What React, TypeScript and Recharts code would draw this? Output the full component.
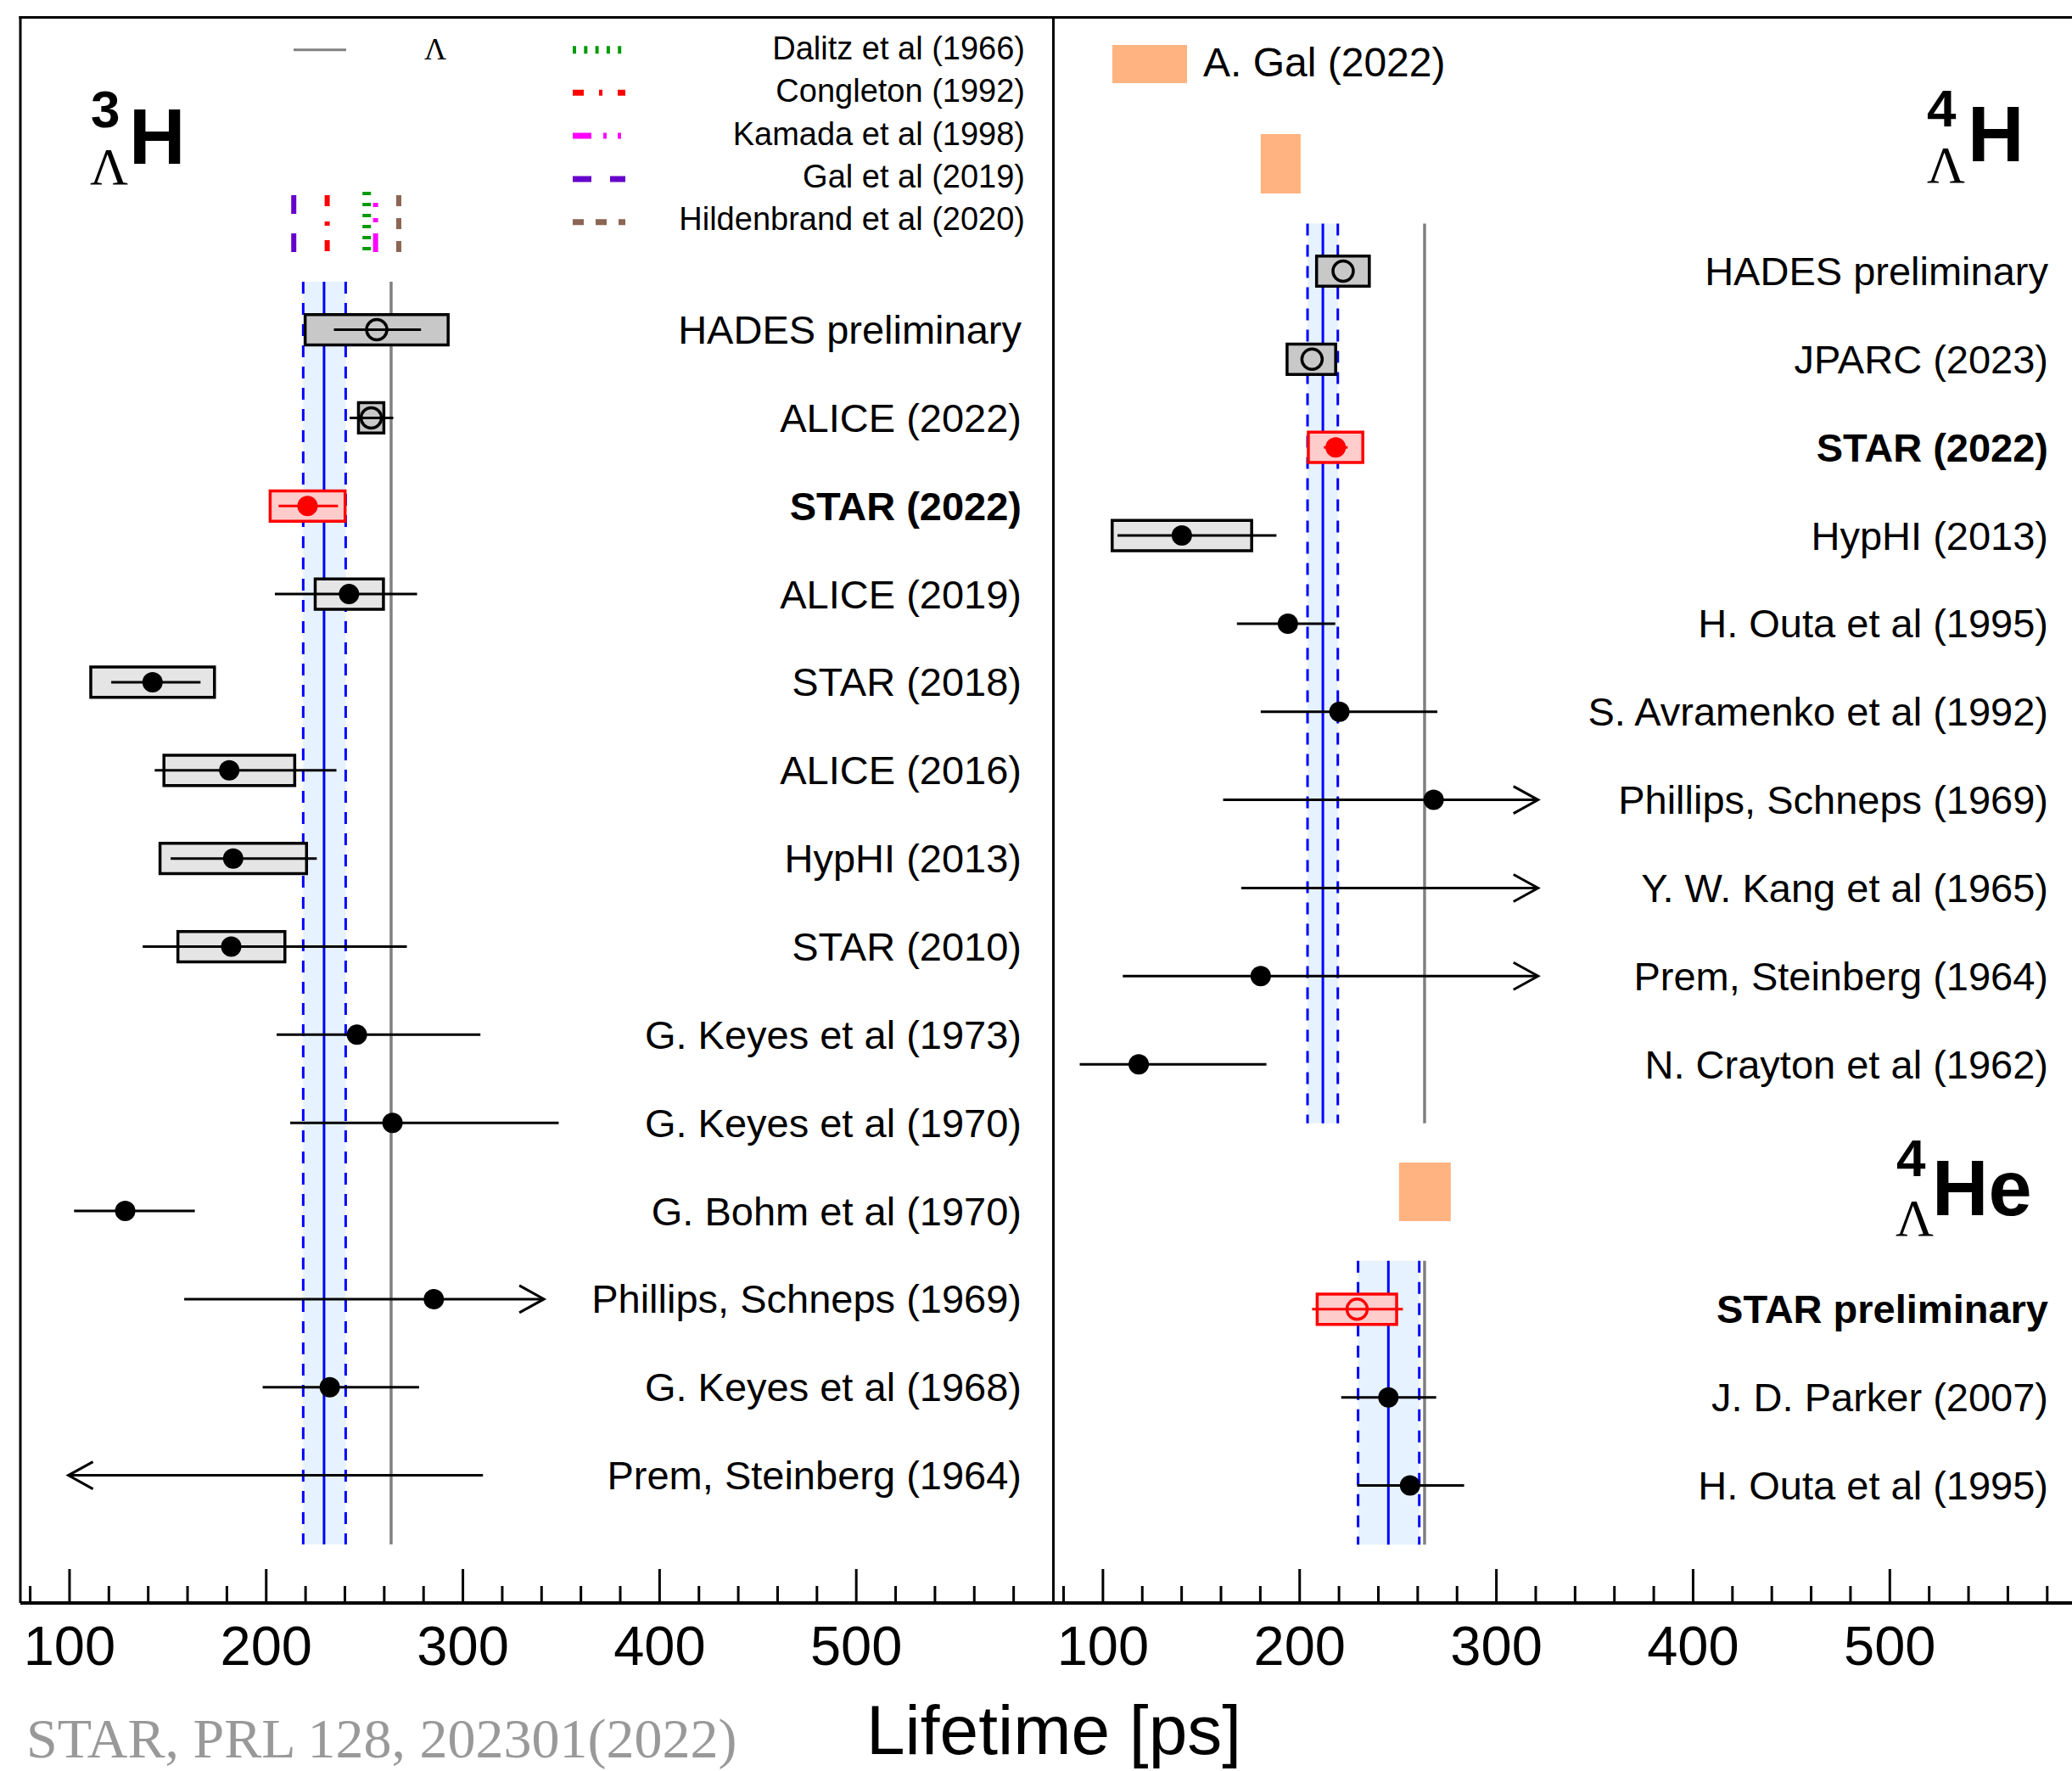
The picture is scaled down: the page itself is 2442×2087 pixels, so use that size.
import React from 'react'
import { ErrorBar, ReferenceArea, ReferenceLine, Scatter, ScatterChart, XAxis, YAxis } from 'recharts'

const SANS = '"Liberation Sans", Arial, Helvetica, sans-serif'
const SERIF = '"Liberation Serif", "Times New Roman", serif'

// ---------- 3ΛH measurements (left panel, top to bottom) ----------
const h3Labels = [
  'HADES preliminary', 'ALICE (2022)', 'STAR (2022)', 'ALICE (2019)', 'STAR (2018)', 'ALICE (2016)',
  'HypHI (2013)', 'STAR (2010)', 'G. Keyes et al (1973)', 'G. Keyes et al (1970)', 'G. Bohm et al (1970)',
  'Phillips, Schneps (1969)', 'G. Keyes et al (1968)', 'Prem, Steinberg (1964)',
]
const h3Rows = [0, 1, 2, 3, 4, 5, 6, 7, 8, 9, 10, 11, 12, 13]
const h3Lifetime = [256.2, 253.4, 221.0, 242.1, 142.2, 181.2, 183.2, 182.2, 246.1, 264.2, 128.3, 285.2, 232.3, 310.2]
const h3StatLow = [234.4, 242.4, 206.3, 204.4, 121.2, 143.3, 151.4, 137.2, 205.3, 212.2, 102.3, 158.3, 198.2, 99.4]
const h3StatHigh = [278.7, 264.6, 236.5, 276.7, 166.6, 235.7, 225.7, 271.5, 308.9, 348.7, 163.7, 341.2, 277.7, 310.2]
const h3SysLow = [219.8, 246.9, 202.0, 224.9, 110.8, 148.0, 146.0, 155.1, null, null, null, null, null, null]
const h3SysHigh = [292.5, 259.8, 240.1, 259.6, 173.7, 214.5, 220.5, 209.5, null, null, null, null, null, null]
const h3Marker = ['open', 'open', 'dot', 'dot', 'dot', 'dot', 'dot', 'dot', 'dot', 'dot', 'dot', 'dot', 'dot', 'none']
const h3Group = ['new', 'new', 'star', 'old', 'old', 'old', 'old', 'old', 'old', 'old', 'old', 'old', 'old', 'old']
const h3Arrows = [
  { x: 341.2, row: 11, dir: 1 },
  { x: 99.4, row: 13, dir: -1 },
]
const h3Average = [218.8, 229.4, 240.4]
const h3AverageRows = [-0.544, 13.784]

// theory predictions for 3ΛH
const theoryNames = ['Dalitz et al (1966)', 'Congleton (1992)', 'Kamada et al (1998)', 'Gal et al (2019)', 'Hildenbrand et al (2020)']
const theoryLifetime = [251.1, 231.0, 255.6, 214.0, 267.4]
const theoryRows = [-1.527, -0.882]

// free Λ lifetime
const lambdaLifetime = 263.5

// ---------- 4ΛH measurements (right panel, upper) ----------
const h4Labels = [
  'HADES preliminary', 'JPARC (2023)', 'STAR (2022)', 'HypHI (2013)', 'H. Outa et al (1995)',
  'S. Avramenko et al (1992)', 'Phillips, Schneps (1969)', 'Y. W. Kang et al (1965)',
  'Prem, Steinberg (1964)', 'N. Crayton et al (1962)',
]
const h4Rows = [0, 1, 2, 3, 4, 5, 6, 7, 8, 9]
const h4Lifetime = [222.1, 206.3, 218.3, 140.1, 194.0, 220.2, 268.1, 170.3, 180.2, 118.2]
const h4StatLow = [222.1, 206.3, 212.3, 107.4, 168.1, 180.2, 161.1, 170.3, 110.1, 88.2]
const h4StatHigh = [222.1, 206.3, 224.4, 188.2, 218.1, 270.0, 321.2, 321.2, 321.2, 183.1]
const h4SysLow = [208.6, 193.6, 204.4, 104.7, null, null, null, null, null, null]
const h4SysHigh = [235.4, 218.3, 232.1, 175.6, null, null, null, null, null, null]
const h4Marker = ['open', 'open', 'dot', 'dot', 'dot', 'dot', 'dot', 'none', 'dot', 'dot']
const h4Group = ['new', 'new', 'star', 'old', 'old', 'old', 'old', 'old', 'old', 'old']
const h4Arrows = [
  { x: 321.2, row: 6, dir: 1 },
  { x: 321.2, row: 7, dir: 1 },
  { x: 321.2, row: 8, dir: 1 },
]
const h4Average = [204.0, 211.8, 219.4]
const h4AverageRows = [-0.54, 9.67]
const h4Gal = [180.2, 200.5]
const h4GalRows = [-1.555, -0.881]

// ---------- 4ΛHe measurements (right panel, lower) ----------
const he4Labels = ['STAR preliminary', 'J. D. Parker (2007)', 'H. Outa et al (1995)']
const he4Rows = [11.78, 12.78, 13.78]
const he4Lifetime = [229.2, 245.1, 256.1]
const he4StatLow = [206.3, 221.1, 229.2]
const he4StatHigh = [252.5, 269.4, 283.6]
const he4SysLow = [208.9, null, null]
const he4SysHigh = [249.3, null, null]
const he4Marker = ['open', 'dot', 'dot']
const he4Group = ['star', 'old', 'old']
const he4Average = [229.7, 245.1, 260.8]
const he4AverageRows = [11.23, 14.45]
const he4Gal = [250.5, 276.8]
const he4GalRows = [10.115, 10.78]

const axisTicks = [80, 100, 120, 140, 160, 180, 200, 220, 240, 260, 280, 300, 320, 340, 360, 380, 400, 420, 440, 460, 480, 500, 520, 540, 560, 580]

// styles
const THEORY_STYLE = [
  { color: '#009900', width: 10, vDash: '4 9', hDash: '4 9.3', top: -1.566 },
  { color: '#ff0000', width: 6, vDash: '13 18 5 17', hDash: '13 18 4 18', top: theoryRows[0] },
  { color: '#ff00ff', width: 6, vDash: '0 9 5 13 5 13 22 40', hDash: '22 14 4 13 4 13', top: theoryRows[0] },
  { color: '#6600cc', width: 6, vDash: '22 23', hDash: '22 22', top: theoryRows[0] },
  { color: '#8c6655', width: 6, vDash: '13 14', hDash: '13 14', top: theoryRows[0] },
]
const BLUE = '#0000ff'
const BAND_FILL = '#e6f2ff'
const GRAY_LINE = '#808080'
const ORANGE = '#ffb380'
const TOP = 20
const PLOT_H = 1869
const AXIS_H = 198
const ZERO = { top: 0, right: 0, bottom: 0, left: 0 }

type Pt = {
  label: string
  row: number
  x: number
  err: [number, number]
  marker: string
  group: string
  sysLow: number | null
  sysHigh: number | null
}

function buildPoints(
  labels: string[], rows: number[], life: number[], lo: number[], hi: number[],
  sLo: (number | null)[], sHi: (number | null)[], marker: string[], group: string[],
): Pt[] {
  return labels.map((label, i) => ({
    label,
    row: rows[i],
    x: life[i],
    err: [life[i] - lo[i], hi[i] - life[i]],
    marker: marker[i],
    group: group[i],
    sysLow: sLo[i],
    sysHigh: sHi[i],
  }))
}

const h3Points = buildPoints(h3Labels, h3Rows, h3Lifetime, h3StatLow, h3StatHigh, h3SysLow, h3SysHigh, h3Marker, h3Group)
const h4Points = [
  ...buildPoints(h4Labels, h4Rows, h4Lifetime, h4StatLow, h4StatHigh, h4SysLow, h4SysHigh, h4Marker, h4Group),
  ...buildPoints(he4Labels, he4Rows, he4Lifetime, he4StatLow, he4StatHigh, he4SysLow, he4SysHigh, he4Marker, he4Group),
]

type VLine = { x: number; y1: number; y2: number; stroke: string; width: number; dash?: string }
type Area = { x1: number; x2: number; y1: number; y2: number; fill: string }

function bandLines(avg: number[], rows: number[]): VLine[] {
  return [
    { x: avg[0], y1: rows[0], y2: rows[1], stroke: BLUE, width: 3, dash: '14 11' },
    { x: avg[1], y1: rows[0], y2: rows[1], stroke: BLUE, width: 3 },
    { x: avg[2], y1: rows[0], y2: rows[1], stroke: BLUE, width: 3, dash: '14 11' },
    { x: lambdaLifetime, y1: rows[0], y2: rows[1], stroke: GRAY_LINE, width: 3.5 },
  ]
}

const leftLines: VLine[] = [
  ...bandLines(h3Average, h3AverageRows),
  ...theoryLifetime.map((x, i) => ({
    x, y1: THEORY_STYLE[i].top, y2: theoryRows[1], stroke: THEORY_STYLE[i].color,
    width: THEORY_STYLE[i].width, dash: THEORY_STYLE[i].vDash,
  })),
]
const leftAreas: Area[] = [
  { x1: h3Average[0], x2: h3Average[2], y1: h3AverageRows[0], y2: h3AverageRows[1], fill: BAND_FILL },
]
const rightLines: VLine[] = [...bandLines(h4Average, h4AverageRows), ...bandLines(he4Average, he4AverageRows)]
const rightAreas: Area[] = [
  { x1: h4Average[0], x2: h4Average[2], y1: h4AverageRows[0], y2: h4AverageRows[1], fill: BAND_FILL },
  { x1: he4Average[0], x2: he4Average[2], y1: he4AverageRows[0], y2: he4AverageRows[1], fill: BAND_FILL },
  { x1: h4Gal[0], x2: h4Gal[1], y1: h4GalRows[0], y2: h4GalRows[1], fill: ORANGE },
  { x1: he4Gal[0], x2: he4Gal[1], y1: he4GalRows[0], y2: he4GalRows[1], fill: ORANGE },
]

type PanelCfg = { left: number; width: number; xDomain: [number, number]; rowDomain: [number, number]; labelInset: number }

const LEFT_CFG: PanelCfg = { left: 24, width: 1217, xDomain: [75, 600], rowDomain: [-3.549, 14.448], labelInset: 37 }
const RIGHT_CFG: PanelCfg = { left: 1241, width: 1201, xDomain: [74.6, 592.6], rowDomain: [-2.884, 15.113], labelInset: 28 }

function Marker(props: any) {
  const { cx, cy } = props
  const p = props.payload ?? props
  if (cx == null || cy == null || p.marker === 'none') return <g />
  const color = p.group === 'star' ? '#ff0000' : '#000000'
  if (p.marker === 'open') {
    return <circle cx={cx} cy={cy} r={12} fill="none" stroke={color} strokeWidth={3.5} />
  }
  return <circle cx={cx} cy={cy} r={12} fill={color} />
}

function ArrowHead(props: any) {
  const { cx, cy } = props
  const p = props.payload ?? props
  if (cx == null || cy == null) return <g />
  const d = p.dir
  return (
    <polyline
      points={`${cx - 29 * d},${cy - 16} ${cx},${cy} ${cx - 29 * d},${cy + 16}`}
      fill="none"
      stroke="#000"
      strokeWidth={3}
    />
  )
}

function XTick(props: any) {
  const { x, y, payload } = props
  const v = payload.value
  const major = v % 100 === 0
  return (
    <g>
      <line x1={x} x2={x} y1={y} y2={y - (major ? 40 : 20)} stroke="#000" strokeWidth={3} />
      {major && v >= 100 && v <= 500 && (
        <text x={x} y={y + 73} textAnchor="middle" fontFamily={SANS} fontSize={65} fill="#000">
          {v}
        </text>
      )}
    </g>
  )
}

function RowLabel(props: any) {
  const { x, y, payload, points, inset } = props
  const item = (points as Pt[]).find((p) => p.row === payload.value)
  if (!item) return <g />
  return (
    <text
      x={x - inset}
      y={y}
      textAnchor="end"
      dominantBaseline="central"
      fontFamily={SANS}
      fontSize={47}
      fontWeight={item.group === 'star' ? 700 : 400}
      fill="#000"
    >
      {item.label}
    </text>
  )
}

function Panel({ cfg, points, arrows, lines, areas }: { cfg: PanelCfg; points: Pt[]; arrows: { x: number; row: number; dir: number }[]; lines: VLine[]; areas: Area[] }) {
  const boxes = points.filter((p) => p.sysLow != null && p.sysHigh != null)
  const black = points.filter((p) => p.group !== 'star')
  const red = points.filter((p) => p.group === 'star')
  const hiddenAxes = [
    <XAxis key="x" type="number" dataKey="x" domain={cfg.xDomain} allowDataOverflow hide />,
    <YAxis key="y" type="number" dataKey="row" domain={cfg.rowDomain} allowDataOverflow reversed hide />,
  ]
  const layer = { position: 'absolute' as const, left: cfg.left, top: TOP }
  return (
    <>
      {/* bands, reference lines, theory lines */}
      <div style={layer}>
        <ScatterChart width={cfg.width} height={PLOT_H} margin={ZERO}>
          {hiddenAxes}
          {areas.map((a, i) => (
            <ReferenceArea key={`a${i}`} x1={a.x1} x2={a.x2} y1={a.y1} y2={a.y2} fill={a.fill} fillOpacity={1} stroke="none" ifOverflow="visible" />
          ))}
          {lines.map((l, i) => (
            <ReferenceLine
              key={`l${i}`}
              segment={[{ x: l.x, y: l.y1 }, { x: l.x, y: l.y2 }]}
              stroke={l.stroke}
              strokeWidth={l.width}
              strokeDasharray={l.dash}
              ifOverflow="visible"
            />
          ))}
        </ScatterChart>
      </div>
      {/* systematic boxes */}
      <div style={layer}>
        <ScatterChart width={cfg.width} height={PLOT_H} margin={ZERO}>
          {hiddenAxes}
          {boxes.map((p, i) => (
            <ReferenceArea
              key={`b${i}`}
              x1={p.sysLow as number}
              x2={p.sysHigh as number}
              y1={p.row - 0.172}
              y2={p.row + 0.172}
              fill={p.group === 'star' ? '#ffcccc' : p.group === 'new' ? '#c8c8c8' : '#e5e5e5'}
              fillOpacity={1}
              stroke={p.group === 'star' ? '#ff0000' : '#000000'}
              strokeWidth={3.5}
              ifOverflow="visible"
            />
          ))}
        </ScatterChart>
      </div>
      {/* points, stat errors, limits, axis and labels */}
      <div style={layer}>
        <ScatterChart width={cfg.width} height={PLOT_H + AXIS_H} margin={ZERO}>
          <XAxis
            type="number"
            dataKey="x"
            domain={cfg.xDomain}
            allowDataOverflow
            ticks={axisTicks}
            interval={0}
            height={AXIS_H}
            tickSize={0}
            tickMargin={0}
            tickLine={false}
            axisLine={{ stroke: '#000', strokeWidth: 4 }}
            tick={(p: any) => <XTick {...p} />}
          />
          <YAxis
            type="number"
            dataKey="row"
            orientation="right"
            mirror
            domain={cfg.rowDomain}
            allowDataOverflow
            reversed
            ticks={points.map((p) => p.row)}
            interval={0}
            tickSize={0}
            tickMargin={0}
            tickLine={false}
            axisLine={false}
            tick={(p: any) => <RowLabel {...p} points={points} inset={cfg.labelInset} />}
          />
          <Scatter data={black} shape={Marker} isAnimationActive={false}>
            <ErrorBar dataKey="err" direction="x" width={0} stroke="#000" strokeWidth={3} isAnimationActive={false} />
          </Scatter>
          <Scatter data={red} shape={Marker} isAnimationActive={false}>
            <ErrorBar dataKey="err" direction="x" width={0} stroke="#ff0000" strokeWidth={3} isAnimationActive={false} />
          </Scatter>
          <Scatter data={arrows} shape={ArrowHead} isAnimationActive={false} />
        </ScatterChart>
      </div>
    </>
  )
}

function Overlay() {
  const legendY = [58.7, 109.3, 160, 211, 261.7]
  const legendTextY = [57, 107, 158, 208, 258]
  return (
    <svg width={2442} height={2087} style={{ position: 'absolute', left: 0, top: 0, pointerEvents: 'none' }}>
      {/* frame */}
      <line x1={22.5} y1={20.5} x2={2442} y2={20.5} stroke="#000" strokeWidth={3} />
      <line x1={24} y1={19} x2={24} y2={1889} stroke="#000" strokeWidth={3} />
      <line x1={1241.5} y1={19} x2={1241.5} y2={1889} stroke="#000" strokeWidth={3} />

      {/* legend, left */}
      <line x1={346} y1={58.7} x2={408} y2={58.7} stroke={GRAY_LINE} strokeWidth={3} />
      <text x={500} y={70} fontFamily={SERIF} fontSize={36} fill="#000">Λ</text>
      {theoryNames.map((name, i) => (
        <g key={name}>
          <line
            x1={675}
            x2={737}
            y1={legendY[i]}
            y2={legendY[i]}
            stroke={THEORY_STYLE[i].color}
            strokeWidth={i === 0 ? 9 : 7}
            strokeDasharray={THEORY_STYLE[i].hDash}
          />
          <text x={1208} y={legendTextY[i]} textAnchor="end" dominantBaseline="central" fontFamily={SANS} fontSize={38} fill="#000">
            {name}
          </text>
        </g>
      ))}

      {/* isotope labels */}
      <g fontFamily={SANS} fontWeight={700} fill="#000">
        <text x={107} y={150} fontSize={62}>3</text>
        <text x={152} y={193} fontSize={92}>H</text>
        <text x={2271} y={149} fontSize={62}>4</text>
        <text x={2319} y={190} fontSize={92}>H</text>
        <text x={2235} y={1386} fontSize={62}>4</text>
        <text x={2277} y={1432} fontSize={92}>He</text>
      </g>
      <g fontFamily={SERIF} fill="#000">
        <text x={106} y={217} fontSize={62}>Λ</text>
        <text x={2271} y={215} fontSize={62}>Λ</text>
        <text x={2234} y={1456} fontSize={62}>Λ</text>
      </g>

      {/* legend, right */}
      <rect x={1311} y={53} width={88} height={45} fill={ORANGE} />
      <text x={1418} y={73} dominantBaseline="central" fontFamily={SANS} fontSize={48} fill="#000">A. Gal (2022)</text>

      {/* axis title and reference */}
      <text x={1242} y={2067} textAnchor="middle" fontFamily={SANS} fontSize={82} fill="#000">Lifetime [ps]</text>
      <text x={31} y={2071} fontFamily={SERIF} fontSize={66} fill="#999999">STAR, PRL 128, 202301(2022)</text>
    </svg>
  )
}

export default function App() {
  return (
    <div style={{ position: 'absolute', left: 0, top: 0, width: 2442, height: 2087, overflow: 'hidden', background: '#fff' }}>
      <Panel cfg={LEFT_CFG} points={h3Points} arrows={h3Arrows} lines={leftLines} areas={leftAreas} />
      <Panel cfg={RIGHT_CFG} points={h4Points} arrows={h4Arrows} lines={rightLines} areas={rightAreas} />
      <Overlay />
    </div>
  )
}
